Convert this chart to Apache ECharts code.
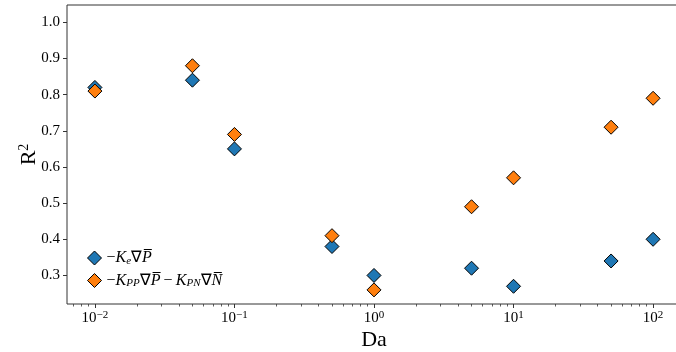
<!DOCTYPE html>
<html>
<head>
<meta charset="utf-8">
<script src="https://cdn.jsdelivr.net/npm/echarts@6/dist/echarts.min.js"></script>
<style>html,body{margin:0;padding:0;background:#fff;}#c{width:676px;height:352px;}</style>
</head>
<body>
<div id="c"></div>
<script>
// Data
const da = [0.01, 0.05, 0.1, 0.5, 1, 5, 10, 50, 100];
const r2Ke = [0.82, 0.84, 0.65, 0.38, 0.30, 0.32, 0.27, 0.34, 0.40];
const r2KppKpn = [0.81, 0.88, 0.69, 0.41, 0.26, 0.49, 0.57, 0.71, 0.79];
const xMajorExp = [-2, -1, 0, 1, 2];
const yTicks = [0.3, 0.4, 0.5, 0.6, 0.7, 0.8, 0.9, 1.0];
const seriesNames = ['Ke', 'Kpp'];

const xMin = -2.2, xMax = 2.2;
const yMin = 0.221, yMax = 1.048;

const xMinor = [];
for (let n = -3; n <= 2; n++) {
  for (let k = 2; k <= 9; k++) {
    const v = Math.log10(k * Math.pow(10, n));
    if (v > xMin && v < xMax) xMinor.push(v);
  }
}

const SERIF = 'Liberation Serif';
const toPts = (ys) => da.map((d, i) => [Math.log10(d), ys[i]]);

const chart = echarts.init(document.getElementById('c'), null, {renderer: 'canvas'});
chart.setOption({
  animation: false,
  backgroundColor: '#fff',
  grid: {
    left: 67, top: 5, width: 614, height: 299,
    show: true, borderColor: '#333', borderWidth: 1,
    containLabel: false, outerBoundsMode: 'none'
  },
  legend: {
    orient: 'vertical', left: 82, top: 245,
    itemWidth: 14, itemHeight: 14, itemGap: 6,
    icon: 'diamond',
    itemStyle: {borderColor: '#000', borderWidth: 1},
    data: seriesNames,
    formatter: function (name) {
      if (name === 'Ke') return '{r|\u2212}{i|K}{sub|e}{r|\u2207}{i|P\u0305}';
      return '{r|\u2212}{i|K}{sub|PP}{r|\u2207}{i|P\u0305}{r|\u2009\u2212\u2009}{i|K}{sub|PN}{r|\u2207}{i|N\u0305}';
    },
    textStyle: {
      fontFamily: SERIF, fontSize: 16, color: '#000',
      rich: {
        r: {fontFamily: SERIF, fontSize: 16, color: '#000', lineHeight: 17},
        i: {fontFamily: SERIF, fontSize: 16, fontStyle: 'italic', color: '#000', lineHeight: 17},
        sub: {fontFamily: SERIF, fontSize: 11, fontStyle: 'italic', color: '#000', lineHeight: 11, verticalAlign: 'bottom'}
      }
    }
  },
  xAxis: [{
    type: 'value', min: xMin, max: xMax,
    name: 'Da', nameLocation: 'middle', nameGap: 25, nameMoveOverlap: false,
    nameTextStyle: {fontFamily: SERIF, fontSize: 22, color: '#000'},
    axisLine: {show: false, onZero: false},
    splitLine: {show: false},
    axisTick: {show: true, length: 4, lineStyle: {color: '#333', width: 1}, customValues: xMajorExp},
    axisLabel: {
      customValues: xMajorExp, margin: 6,
      formatter: function (v) {
        const e = Math.round(v);
        return '{b|10}{s|' + (e < 0 ? '\u2212' + (-e) : e) + '}';
      },
      rich: {
        b: {fontFamily: SERIF, fontSize: 15, color: '#000', lineHeight: 17},
        s: {fontFamily: SERIF, fontSize: 11, color: '#000', lineHeight: 11, verticalAlign: 'top'}
      }
    }
  }, {
    type: 'value', min: xMin, max: xMax, gridIndex: 0, position: 'bottom',
    axisLine: {show: false, onZero: false}, splitLine: {show: false},
    axisLabel: {show: false},
    axisTick: {show: true, length: 2.5, lineStyle: {color: '#333', width: 0.8}, customValues: xMinor}
  }],
  yAxis: {
    type: 'value', min: yMin, max: yMax,
    name: '{a|R}{s|2}', nameLocation: 'middle', nameGap: 26, nameRotate: 90, nameMoveOverlap: false,
    nameTextStyle: {
      rich: {
        a: {fontFamily: SERIF, fontSize: 22, color: '#000', lineHeight: 24},
        s: {fontFamily: SERIF, fontSize: 14, color: '#000', lineHeight: 14, verticalAlign: 'top'}
      }
    },
    axisLine: {show: false, onZero: false},
    splitLine: {show: false},
    axisTick: {show: true, length: 4, lineStyle: {color: '#333', width: 1}, customValues: yTicks},
    axisLabel: {
      customValues: yTicks, margin: 7,
      fontFamily: SERIF, fontSize: 15, color: '#000',
      formatter: (v) => v.toFixed(1)
    }
  },
  series: [{
    name: seriesNames[0], type: 'scatter', symbol: 'diamond', symbolSize: 14,
    data: toPts(r2Ke),
    itemStyle: {color: '#1f77b4', borderColor: '#000', borderWidth: 1, opacity: 1},
    z: 2
  }, {
    name: seriesNames[1], type: 'scatter', symbol: 'diamond', symbolSize: 14,
    data: toPts(r2KppKpn),
    itemStyle: {color: '#ff7f0e', borderColor: '#000', borderWidth: 1, opacity: 1},
    z: 3
  }]
});
</script>
</body>
</html>
